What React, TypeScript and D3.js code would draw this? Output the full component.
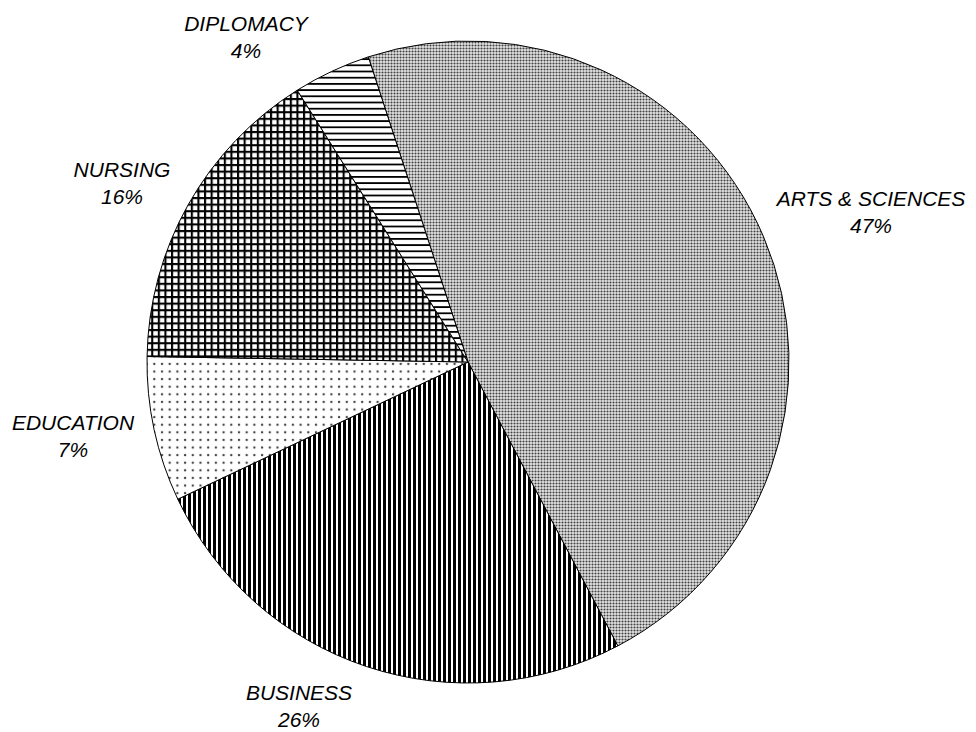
import React from "react";
import * as d3 from "d3";

const categories = ["ARTS & SCIENCES", "BUSINESS", "EDUCATION", "NURSING", "DIPLOMACY"];
const shares = [47.3, 25.7, 7.3, 15.8, 3.9];

const W = 976;
const H = 732;
const CX = 468;
const CY = 362;
const R = 321;
const START_DEG = -18.1;

// label block centres (text annotations, hand-placed like the source)
const labelLayout: Record<string, [number, number]> = {
  "ARTS & SCIENCES": [871, 211],
  BUSINESS: [299, 705],
  EDUCATION: [73, 435],
  NURSING: [122, 182],
  DIPLOMACY: [246, 36],
};

const patternIds = ["pArts", "pBus", "pEdu", "pNurs", "pDip"];

export default function App() {
  const data = categories.map((c, i) => ({ name: c, value: shares[i] }));
  const total = d3.sum(shares);
  const start = (START_DEG * Math.PI) / 180;
  const pie = d3
    .pie<{ name: string; value: number }>()
    .sort(null)
    .value((d) => d.value)
    .startAngle(start)
    .endAngle(start + 2 * Math.PI);
  const arcs = pie(data);
  const arc = d3.arc<d3.PieArcDatum<{ name: string; value: number }>>().innerRadius(0).outerRadius(R);
  const fmt = (v: number) => `${Math.round((v / total) * 100)}%`;

  return (
    <svg
      width={W}
      height={H}
      style={{ position: "absolute", left: 0, top: 0, background: "#fff" }}
      fontFamily="Arial, 'Liberation Sans', sans-serif"
    >
      <defs>
        <pattern id="pArts" patternUnits="userSpaceOnUse" width={3} height={3}>
          <rect width={3} height={3} fill="#e4e4e4" />
          <circle cx={1.5} cy={1.5} r={1.05} fill="#404040" />
        </pattern>
        <pattern id="pBus" patternUnits="userSpaceOnUse" width={5} height={5}>
          <rect width={5} height={5} fill="#fff" />
          <rect x={0} width={3} height={5} fill="#000" />
        </pattern>
        <pattern id="pEdu" patternUnits="userSpaceOnUse" width={7.7} height={7.6}>
          <rect width={7.7} height={7.6} fill="#fff" />
          <circle cx={2} cy={2} r={1.2} fill="#444" />
        </pattern>
        <pattern id="pNurs" patternUnits="userSpaceOnUse" width={6.6} height={6.6}>
          <rect width={6.6} height={6.6} fill="#fff" />
          <rect x={0} y={0} width={6.6} height={2.1} fill="#000" />
          <rect x={0} y={0} width={2.1} height={6.6} fill="#000" />
        </pattern>
        <pattern id="pDip" patternUnits="userSpaceOnUse" width={6} height={6.2}>
          <rect width={6} height={6.2} fill="#fff" />
          <rect x={0} y={0} width={6} height={1.8} fill="#000" />
        </pattern>
      </defs>
      <g transform={`translate(${CX},${CY})`}>
        {arcs.map((a, i) => (
          <path
            key={a.data.name}
            d={arc(a) || ""}
            fill={`url(#${patternIds[i]})`}
            stroke="#000"
            strokeWidth={1}
          />
        ))}
      </g>
      {arcs.map((a) => {
        const [x, y] = labelLayout[a.data.name];
        return (
          <text
            key={"l" + a.data.name}
            x={x}
            y={y}
            textAnchor="middle"
            fontSize={21}
            fontStyle="italic"
            fill="#000"
          >
            <tspan x={x} dy={-5}>
              {a.data.name}
            </tspan>
            <tspan x={x} dy={27}>
              {fmt(a.data.value)}
            </tspan>
          </text>
        );
      })}
    </svg>
  );
}
